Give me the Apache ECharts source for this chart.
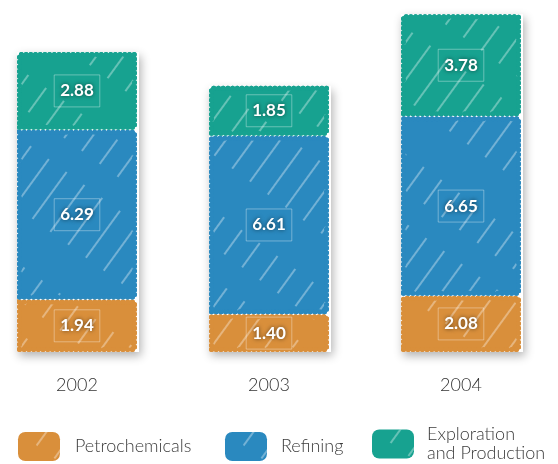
<!DOCTYPE html>
<html>
<head>
<meta charset="utf-8">
<script src="https://cdn.jsdelivr.net/npm/echarts@6/dist/echarts.min.js"></script>
<style>
  html, body { margin: 0; padding: 0; background: #fff; }
  #chart { width: 558px; height: 464px; }
</style>
</head>
<body>
<div id="chart"></div>
<script>
// Segment values per year (stacked bottom to top)
const years = ['2002', '2003', '2004'];
const petrochemicals = [1.94, 1.40, 2.08];
const refining = [6.29, 6.61, 6.65];
const exploration = [2.88, 1.85, 3.78];

const colors = {
  petro: '#d98f3b',
  refining: '#2a89bf',
  exploration: '#17a290'
};

// column totals, used for the soft drop shadow under each stack
const totals = years.map((_, i) => petrochemicals[i] + refining[i] + exploration[i]);

// light diagonal streaks over each fill, like crayon hatching
function hatch() {
  return {
    symbol: 'rect',
    color: 'rgba(255,255,255,0.34)',
    backgroundColor: null,
    dashArrayX: [[58, 26, 30, 44]],
    dashArrayY: [1.4, 20],
    rotation: -Math.PI * 0.3,
    symbolSize: 1
  };
}

const BAR_W = 120;

function segment(name, values, color) {
  return {
    name: name,
    type: 'bar',
    stack: 'total',
    barWidth: BAR_W,
    barGap: '-100%',
    clip: false,
    z: 3,
    data: values,
    itemStyle: {
      color: color,
      borderColor: color,
      borderWidth: 5,
      borderType: [0.1, 4.6],
      borderCap: 'round',
      decal: hatch()
    },
    label: {
      show: true,
      position: 'inside',
      formatter: p => p.value.toFixed(2),
      color: '#fff',
      fontFamily: 'Lato',
      fontWeight: 'bold',
      fontSize: 17,
      textShadowColor: 'rgba(0,0,0,0.6)',
      textShadowBlur: 4,
      borderColor: 'rgba(255,255,255,0.35)',
      borderWidth: 1,
      padding: [8, 6, 7, 6]
    },
    emphasis: { disabled: true }
  };
}

function legendAt(name, left, top, color, gap) {
  return {
    left: left,
    top: top,
    padding: 0,
    itemWidth: 42,
    itemHeight: 29,
    icon: 'roundRect',
    selectedMode: false,
    data: [{ name: name, itemStyle: { color: color, borderWidth: 0, decal: hatch() } }],
    textStyle: {
      fontFamily: 'Lato',
      fontWeight: 300,
      fontSize: 18,
      color: '#3b3b3b',
      lineHeight: 19,
      padding: [0, 0, 0, gap]
    }
  };
}

const chart = echarts.init(document.getElementById('chart'), null, { renderer: 'canvas' });
chart.setOption({
  animation: false,
  backgroundColor: '#fff',
  grid: { left: 77, right: 97, top: 1, bottom: 112 },
  xAxis: {
    type: 'category',
    data: years,
    boundaryGap: false,
    axisLine: { show: false },
    axisTick: { show: false },
    axisLabel: {
      margin: 24,
      fontFamily: 'Lato',
      fontWeight: 300,
      fontSize: 18,
      color: '#333'
    }
  },
  yAxis: {
    type: 'value',
    min: 0,
    max: 13,
    show: false,
    splitLine: { show: false }
  },
  legend: [
    legendAt('Petrochemicals', 18, 432, colors.petro, 10),
    legendAt('Refining', 225, 432, colors.refining, 9),
    legendAt('Exploration\nand Production', 372, 425, colors.exploration, 8)
  ],
  series: [
    {
      name: 'shadow',
      type: 'bar',
      stack: 'shadow',
      barWidth: BAR_W + 2,
      barGap: '-100%',
      clip: false,
      z: 1,
      silent: true,
      data: totals,
      itemStyle: {
        color: 'rgba(255,255,255,1)',
        shadowBlur: 9,
        shadowColor: 'rgba(0,0,0,0.3)',
        shadowOffsetX: 2,
        shadowOffsetY: 4
      },
      label: { show: false }
    },
    segment('Petrochemicals', petrochemicals, colors.petro),
    segment('Refining', refining, colors.refining),
    segment('Exploration\nand Production', exploration, colors.exploration)
  ]
});
</script>
</body>
</html>
